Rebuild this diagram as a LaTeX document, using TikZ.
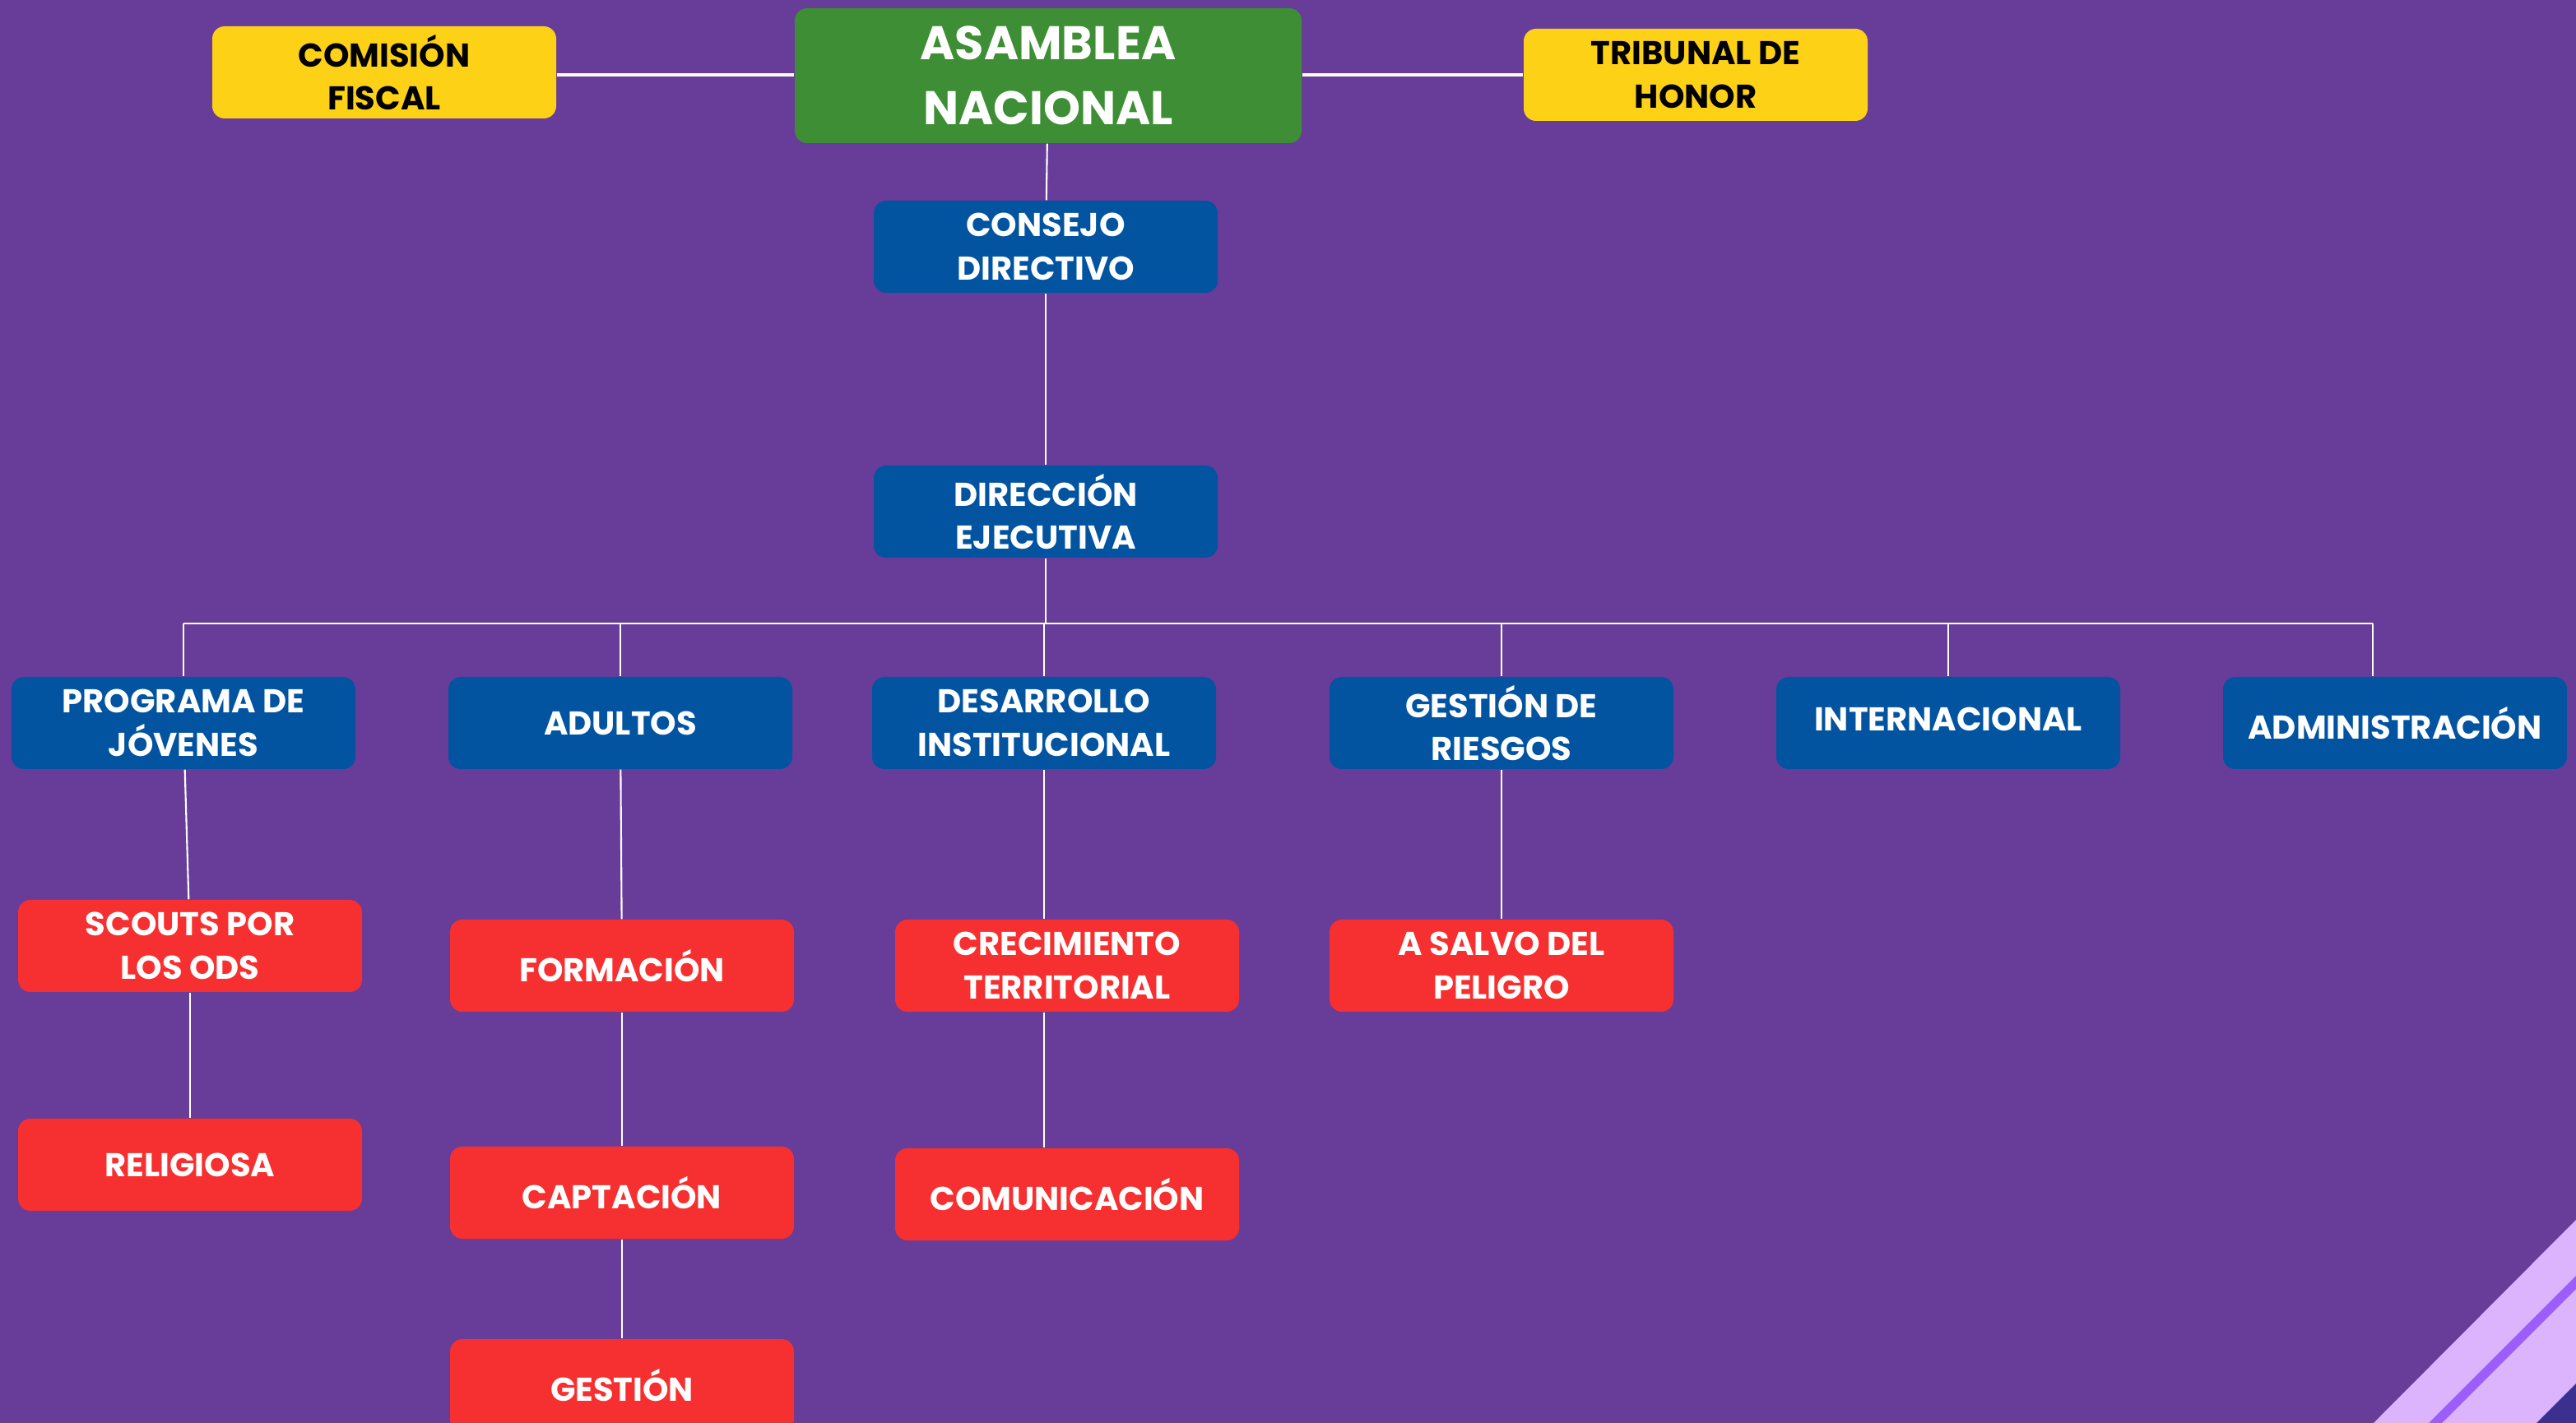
\documentclass[tikz,border=0pt]{standalone}
\usepackage{fontspec}
\setmainfont{Poppins}
\usetikzlibrary{positioning}
\definecolor{bg_purple}{HTML}{683C99}
\definecolor{org_green}{HTML}{3E8E35}
\definecolor{org_yellow}{HTML}{FDD116}
\definecolor{org_blue}{HTML}{0254A0}
\definecolor{org_red}{HTML}{F63030}
\definecolor{deco_light}{HTML}{DBB4FD}
\definecolor{deco_mid}{HTML}{9B5EFB}
\definecolor{deco_dark}{HTML}{3B2F8F}
\tikzstyle{base_node} = [
    rectangle,
    rounded corners=0.15cm,
    align=center,
    inner sep=0pt,
    font=\fontsize{11.4}{15}\selectfont\bfseries,
    minimum width=4.18cm,
    minimum height=1.12cm
]
\tikzstyle{green_node} = [
    base_node,
    white,
    fill=org_green,
    font=\fontsize{16.3}{22.5}\selectfont\bfseries,
    minimum width=6.16cm,
    minimum height=1.64cm
]
\tikzstyle{yellow_node} = [
    base_node,
    black,
    fill=org_yellow
]
\tikzstyle{blue_node} = [
    base_node,
    white,
    fill=org_blue
]
\tikzstyle{red_node} = [
    base_node,
    white,
    fill=org_red
]
\tikzstyle{link} = [
    draw=white,
    line width=0.6pt
]

\begin{document}
\begin{tikzpicture}
\useasboundingbox (0,0) rectangle (31.31,-17.30);
\clip (0,0) rectangle (31.31,-17.30);
\fill [bg_purple] (0,0) rectangle (31.31,-17.30);

% corner stripes
\fill [deco_light] (28.85,-17.30) -- (31.31,-14.83) -- (31.31,-17.30) -- cycle;
\fill [deco_mid] (29.52,-17.30) -- (31.31,-15.51) -- (31.31,-15.67) -- (29.68,-17.30) -- cycle;
\fill [deco_dark] (30.83,-17.30) -- (31.31,-16.82) -- (31.31,-17.30) -- cycle;

% top level
\node [green_node] (asamblea) at (12.74,-0.92) {ASAMBLEA\\NACIONAL};
\node [yellow_node] (comision) at (4.67,-0.88) {COMISIÓN\\FISCAL};
\node [yellow_node] (tribunal) at (20.61,-0.91) {TRIBUNAL DE\\HONOR};
\node [blue_node] (consejo) at (12.71,-3.00) {CONSEJO\\DIRECTIVO};
\node [blue_node] (direccion) at (12.71,-6.22) {DIRECCIÓN\\EJECUTIVA};

% areas
\node [blue_node] (programa) at (2.23,-8.79) {PROGRAMA DE\\JÓVENES};
\node [blue_node] (adultos) at (7.54,-8.79) {ADULTOS};
\node [blue_node] (desarrollo) at (12.69,-8.79) {DESARROLLO\\INSTITUCIONAL};
\node [blue_node] (riesgos) at (18.25,-8.79) {GESTIÓN DE\\RIESGOS};
\node [blue_node] (internacional) at (23.68,-8.79) {\raisebox{0.09cm}{INTERNACIONAL}};
\node [blue_node] (administracion) at (29.11,-8.79) {ADMINISTRACIÓN};

% sub areas
\node [red_node] (scouts) at (2.31,-11.50) {SCOUTS POR\\LOS ODS};
\node [red_node] (religiosa) at (2.31,-14.16) {RELIGIOSA};
\node [red_node] (formacion) at (7.56,-11.74) {FORMACIÓN};
\node [red_node] (captacion) at (7.56,-14.50) {CAPTACIÓN};
\node [red_node] (gestion) at (7.56,-16.84) {GESTIÓN};
\node [red_node] (crecimiento) at (12.97,-11.74) {CRECIMIENTO\\TERRITORIAL};
\node [red_node] (comunicacion) at (12.97,-14.52) {COMUNICACIÓN};
\node [red_node] (salvo) at (18.25,-11.74) {A SALVO DEL\\PELIGRO};

% connectors
\coordinate (top_line) at (12.74,-0.91);
\draw [link, line width=0.9pt] (comision.east |- top_line) -- (asamblea.west |- top_line);
\draw [link, line width=0.9pt] (asamblea.east |- top_line) -- (tribunal.west |- top_line);
\draw [link] (asamblea) -- (consejo);
\draw [link] (consejo) -- (direccion);

\coordinate (bus) at (12.71,-7.58);
\coordinate (adm_top) at (28.84,-7.58);
\draw [link] (direccion) -- (bus);
\draw [link, line width=0.8pt] (programa.north |- bus) -- (adm_top);
\foreach \area in {programa, adultos, desarrollo, riesgos, internacional}
    \draw [link] (\area.north |- bus) -- (\area.north);
\draw [link] (adm_top) -- (adm_top |- administracion.north);

\draw [link] (programa) -- (scouts);
\draw [link] (scouts) -- (religiosa);
\draw [link] (adultos) -- (formacion);
\draw [link] (formacion) -- (captacion);
\draw [link] (captacion) -- (gestion);
\draw [link] (desarrollo.south) -- (desarrollo.south |- crecimiento.north);
\draw [link] (desarrollo.south |- crecimiento.south) -- (desarrollo.south |- comunicacion.north);
\draw [link] (riesgos) -- (salvo);
\end{tikzpicture}
\end{document}
